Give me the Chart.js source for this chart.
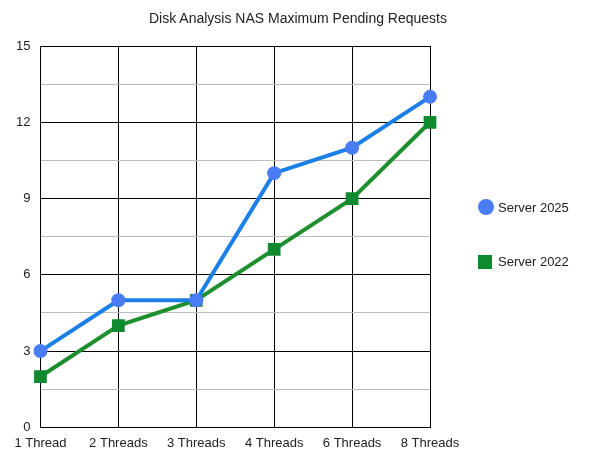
<!DOCTYPE html>
<html><head><meta charset="utf-8">
<script src="https://cdn.jsdelivr.net/npm/chart.js@4"></script>
<style>
body{margin:0;background:#fff;font-family:"Liberation Sans",Arial,sans-serif}
#wrap{position:relative;width:600px;height:463px}
#titulo{position:absolute;top:10px;left:0;width:596px;text-align:center;font-size:14px;color:#222}
.leg{position:absolute;left:478px;font-size:13px;color:#222;display:flex;align-items:center}
.leg span.m{display:inline-block;width:16px;height:16px;margin-right:4px}
</style></head><body>
<div id="wrap"><canvas id="c" width="600" height="463"></canvas>
<div id="titulo">Disk Analysis NAS Maximum Pending Requests</div>
<div class="leg" style="top:199px"><span class="m" style="background:#4a7cf5;border-radius:50%"></span>Server 2025</div>
<div class="leg" style="top:254px"><span class="m" style="background:#0f8a2e;width:14px;height:14px;margin-right:6px"></span>Server 2022</div>
</div>
<script>
const categorias = ['1 Thread', '2 Threads', '3 Threads', '4 Threads', '6 Threads', '8 Threads'];
const server2025 = [3, 5, 5, 10, 11, 13];
const server2022 = [2, 4, 5, 7, 9, 12];

new Chart(document.getElementById('c').getContext('2d'), {
    type: 'line',
    data: {
        labels: categorias,
        datasets: [
            { label: 'Server 2025', data: server2025, borderColor: '#1a7fe6', backgroundColor: '#4a7cf5', borderWidth: 4, pointRadius: 7, pointStyle: 'circle', pointBorderWidth: 0 },
            { label: 'Server 2022', data: server2022, borderColor: '#1e8f2e', backgroundColor: '#0f8a2e', borderWidth: 4, pointRadius: 9, pointStyle: 'rect', pointBorderWidth: 0 },
        ]
    },
    options: {
        responsive: false, animation: false,
        layout: { padding: { left: 6, right: 170, top: 46, bottom: 4 } },
        plugins: {
            legend: { display: false },
            tooltip: { enabled: false },
            title: { display: false }
        },
        scales: {
            x: {
                offset: false,
                grid: { color: '#000', drawTicks: false },
                border: { color: '#000' },
                ticks: { color: '#222', font: { size: 13, family: 'Liberation Sans' }, padding: 8, maxRotation: 0 }
            },
            y: {
                min: 0, max: 15,
                grid: { color: c => (c.tick.value % 3 === 0 ? '#000' : '#bbb'), drawTicks: false },
                border: { color: '#000' },
                ticks: { stepSize: 1.5, color: '#222', font: { size: 13, family: 'Liberation Sans' }, padding: 10, callback: v => (v % 3 === 0 ? v : '') }
            }
        }
    }
});
</script>
</body></html>
